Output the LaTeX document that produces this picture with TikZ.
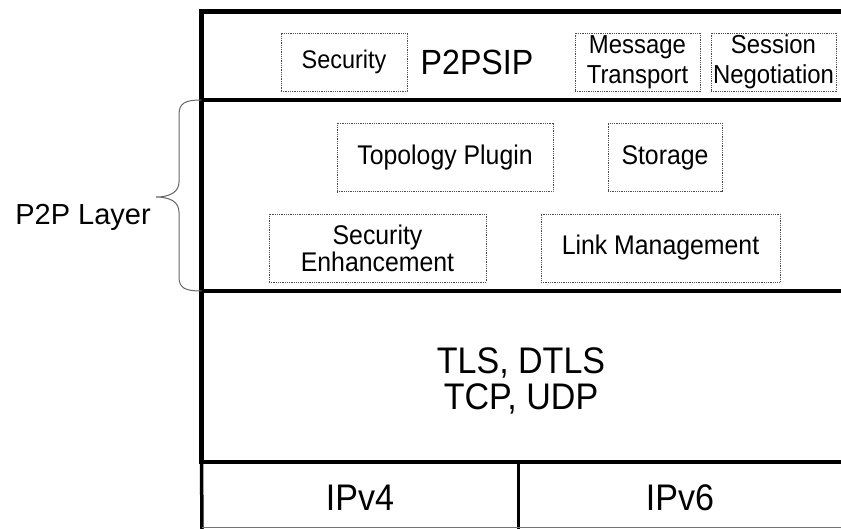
\documentclass[tikz,border=0pt]{standalone}
\usepackage{fontspec}
\setmainfont{Liberation Sans}
% slightly condensed face for the labels inside the stack
\newfontfamily\narrowsans{Liberation Sans}[FakeStretch=0.92]
\begin{document}
\begin{tikzpicture}[x=1pt,y=-1pt,
  layer/.style={line width=4.5pt},
  cellline/.style={line width=3.5pt},
  part/.style={draw=black!70, line width=0.9pt, dash pattern=on 0.9pt off 0.9pt,
               inner sep=0pt, align=center, minimum height=58pt},
  subpart/.style={part, minimum height=68.5pt},
  lbl/.style={font=\narrowsans\fontsize{27}{27}\selectfont},
  twolbl/.style={font=\narrowsans\fontsize{26}{30}\selectfont},
  big/.style={font=\narrowsans\fontsize{35}{36}\selectfont, inner sep=0pt},
  stack/.style={font=\narrowsans\fontsize{37}{36}\selectfont, inner sep=0pt, align=center}]
\useasboundingbox (0,0) rectangle (841,529);

% frame corners and layer boundaries
\coordinate (topL) at (201.5,11.5);
\coordinate (topR) at (841,11.5);
\coordinate (l1L) at (201.5,100);
\coordinate (l1R) at (841,100);
\coordinate (l2L) at (201.5,291);
\coordinate (l2R) at (841,291);
\coordinate (l3L) at (201.5,462);
\coordinate (l3R) at (841,462);
\coordinate (botL) at (202,529);
\coordinate (divT) at (518.5,462);
\coordinate (divB) at (518.5,529);
\coordinate (bL) at (202,527.5);
\coordinate (bR) at (841,527.5);

% layered stack
\draw[layer] (topR) -- (topL) -- (l3L) -- (l3R);
\draw[layer] (l1L) -- (l1R);
\draw[layer] (l2L) -- (l2R);
\draw[cellline] (l3L) -- (botL);
\draw[cellline] (divT) -- (divB);
\draw[black!55, line width=1pt] (bL) -- (bR);

% P2PSIP layer
\node[part, font=\narrowsans\fontsize{25.5}{26}\selectfont, minimum width=126pt] (sec) at (344,62) {Security};
\node[big, anchor=base] (sip) at (477,75) {P2PSIP};
\node[part, twolbl, minimum width=125pt] (msg) at (637.5,62) {Message\\Transport};
\node[part, twolbl, minimum width=125pt] (ses) at (773.5,62) {Session\\Negotiation};

% P2P layer
\node[subpart, lbl, minimum width=216pt] (topo) at (445,157.5) {Topology Plugin};
\node[subpart, lbl, minimum width=114pt] (stor) at (665,157.5) {Storage};
\node[subpart, lbl, minimum width=217pt, minimum height=68pt] (senh) at (377.5,248) {Security\\Enhancement};
\node[subpart, lbl, minimum width=239pt, minimum height=68pt] (link) at (660.5,248) {Link Management};

% transport layer
\node[stack] (tls) at (521,381) {TLS, DTLS\\TCP, UDP};

% network layer
\node[stack, anchor=base] (v4) at (360,510) {IPv4};
\node[stack, anchor=base] (v6) at (680,510) {IPv6};

% brace grouping the P2P layer
\draw[black!60, line width=1pt]
  (l1L) .. controls (185,100) and (179,103) .. (179,115) -- (179,182)
  .. controls (179,192) and (170,197) .. (156,197)
  .. controls (170,197) and (179,202) .. (179,212) -- (179,277)
  .. controls (179,288) and (185,291) .. (l2L);
\node[font=\fontsize{29}{30}\selectfont, anchor=base, inner sep=0pt] (p2p) at (83,225) {P2P Layer};
\end{tikzpicture}
\end{document}
